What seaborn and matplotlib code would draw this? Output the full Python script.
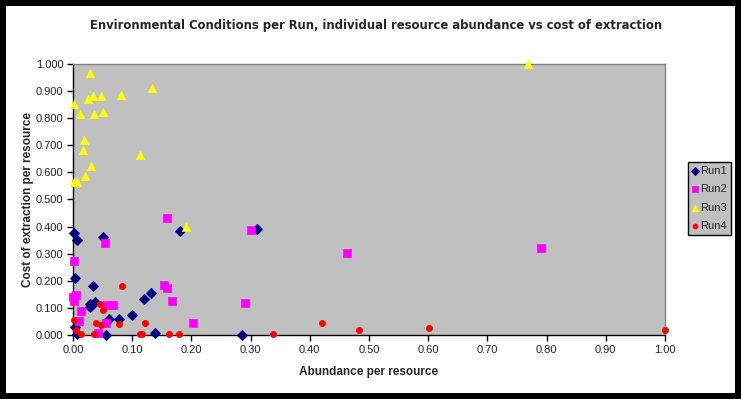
import numpy as np
import pandas as pd
import matplotlib
matplotlib.use("Agg")
import matplotlib.pyplot as plt
import seaborn as sns
from matplotlib.ticker import FormatStrFormatter, MultipleLocator

# ---- data ----
run1_x = [0.002, 0.007, 0.051, 0.003, 0.033, 0.028, 0.028, 0.038, 0.060, 0.078,
          0.100, 0.120, 0.131, 0.139, 0.056, 0.285, 0.003, 0.006, 0.180, 0.310]
run1_y = [0.375, 0.349, 0.362, 0.209, 0.182, 0.113, 0.104, 0.121, 0.058, 0.058,
          0.073, 0.133, 0.154, 0.006, 0.000, 0.000, 0.031, 0.004, 0.383, 0.390]

run2_x = [0.158, 0.054, 0.301, 0.002, 0.000, 0.005, 0.002, 0.014, 0.010, 0.043,
          0.058, 0.068, 0.055, 0.153, 0.159, 0.168, 0.203, 0.291, 0.463, 0.790]
run2_y = [0.433, 0.341, 0.386, 0.273, 0.141, 0.146, 0.125, 0.087, 0.051, 0.008,
          0.110, 0.111, 0.045, 0.183, 0.175, 0.124, 0.043, 0.119, 0.303, 0.322]

run3_x = [0.028, 0.133, 0.033, 0.026, 0.047, 0.081, 0.002, 0.012, 0.036, 0.051,
          0.019, 0.017, 0.031, 0.113, 0.021, 0.002, 0.007, 0.191, 0.769]
run3_y = [0.966, 0.910, 0.881, 0.870, 0.881, 0.885, 0.851, 0.814, 0.814, 0.822,
          0.718, 0.682, 0.622, 0.663, 0.586, 0.566, 0.566, 0.397, 1.000]

run4_x = [0.082, 0.046, 0.050, 0.001, 0.005, 0.013, 0.036, 0.039, 0.048, 0.078,
          0.122, 0.114, 0.116, 0.162, 0.179, 0.337, 0.421, 0.483, 0.601, 1.000]
run4_y = [0.181, 0.113, 0.092, 0.055, 0.018, 0.003, 0.003, 0.045, 0.037, 0.039,
          0.045, 0.003, 0.003, 0.003, 0.003, 0.003, 0.043, 0.018, 0.026, 0.018]

series_names = ["Run1", "Run2", "Run3", "Run4"]
series_colors = ["#000080", "#FF00FF", "#FFFF00", "#FF0000"]
series_markers = ["D", "s", "^", "o"]

title_text = "Environmental Conditions per Run, individual resource abundance vs cost of extraction"
x_label = "Abundance per resource"
y_label = "Cost of extraction per resource"

xs = [run1_x, run2_x, run3_x, run4_x]
ys = [run1_y, run2_y, run3_y, run4_y]
df = pd.concat([pd.DataFrame({"x": xv, "y": yv, "run": n})
                for xv, yv, n in zip(xs, ys, series_names)], ignore_index=True)

sns.set_style("white")
plt.rcParams["font.family"] = ["Liberation Sans", "DejaVu Sans"]

W, H = 741, 399
fig = plt.figure(figsize=(W / 100, H / 100), dpi=100)
fig.patch.set_facecolor("white")
ax = fig.add_axes([73 / W, 1 - 335 / H, (665 - 73) / W, (335 - 64) / H])
ax.set_facecolor("#C0C0C0")

sizes = {"Run1": 28, "Run2": 26, "Run3": 36, "Run4": 20}
for n, c, m in zip(series_names, series_colors, series_markers):
    sub = df[df.run == n]
    sns.scatterplot(data=sub, x="x", y="y", ax=ax, color=c, marker=m,
                    s=sizes[n], edgecolor=c, linewidth=0.5, label=n,
                    clip_on=False, zorder=3)

ax.set_xlim(0, 1)
ax.set_ylim(0, 1)
ax.xaxis.set_major_locator(MultipleLocator(0.1))
ax.yaxis.set_major_locator(MultipleLocator(0.1))
ax.xaxis.set_major_formatter(FormatStrFormatter("%.2f"))
ax.yaxis.set_major_formatter(FormatStrFormatter("%.3f"))
ax.tick_params(axis="both", direction="out", length=4, width=1, color="black",
               labelsize=8, pad=3, bottom=True, left=True)
for sp in ["left", "bottom"]:
    ax.spines[sp].set_color("black")
    ax.spines[sp].set_linewidth(1)
for sp in ["top", "right"]:
    ax.spines[sp].set_color("#808080")
    ax.spines[sp].set_linewidth(1)

ax.set_xlabel(x_label, fontsize=8.5, fontweight="bold", labelpad=8)
ax.set_ylabel(y_label, fontsize=8.5, fontweight="bold", labelpad=1)
fig.text(376 / W, 1 - 25 / H, title_text, ha="center", va="center",
         fontsize=9.3, fontweight="bold", fontstretch="condensed",
         family=["DejaVu Sans"])

leg = ax.legend(loc="upper left", bbox_to_anchor=(688 / W, 1 - 162 / H),
                bbox_transform=fig.transFigure, frameon=True, fancybox=False,
                framealpha=1, facecolor="#C0C0C0", edgecolor="black",
                fontsize=8, handletextpad=0.15, handlelength=0.6,
                markerscale=0.8, labelspacing=0.75, borderpad=0.35,
                borderaxespad=0)
leg.get_frame().set_linewidth(1)

fig.patch.set_edgecolor("black")
fig.patch.set_linewidth(7.5)
fig.savefig("out.png", dpi=100, facecolor="white", edgecolor="black")
